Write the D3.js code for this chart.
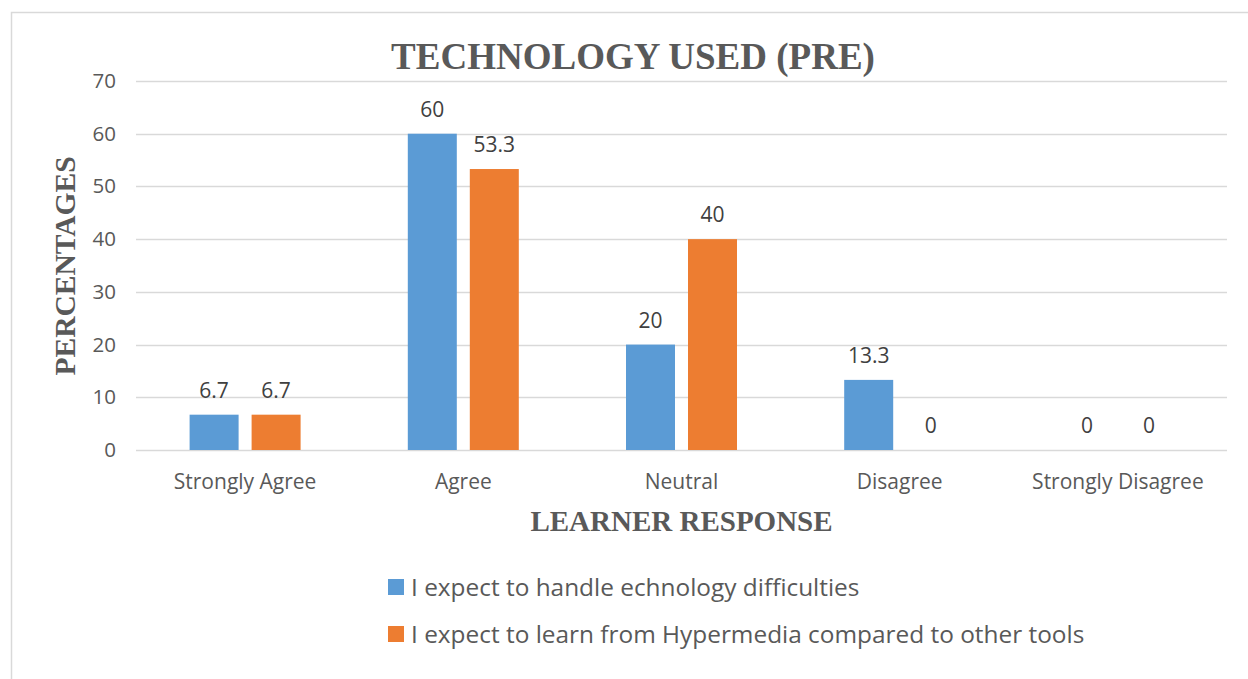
<!DOCTYPE html>
<html>
<head>
<meta charset="utf-8">
<script src="https://cdn.jsdelivr.net/npm/d3@7"></script>
<style>
  body { margin: 0; background: #fff; }
  svg { display: block; }
</style>
</head>
<body>
<div class="chart-container"></div>
<script>
// chart values
var categories = ["Strongly Agree", "Agree", "Neutral", "Disagree", "Strongly Disagree"];
var seriesNames = [
    "I expect to handle echnology difficulties",
    "I expect to learn from Hypermedia compared to other tools"
];
var handleValues = [6.7, 60, 20, 13.3, 0];
var learnValues = [6.7, 53.3, 40, 0, 0];
var yTicks = [0, 10, 20, 30, 40, 50, 60, 70];
var seriesColors = ["#5b9bd5", "#ed7d31"];

var chart = {
    width: 1248,
    height: 679,
    margin: { top: 81, right: 21, bottom: 229, left: 136 },
    svg: null,
};

(function () {
    var W = chart.width, H = chart.height, m = chart.margin;
    var innerW = W - m.left - m.right;
    var innerH = H - m.top - m.bottom;
    var textFont = "'Open Sans', 'Noto Sans', sans-serif";
    var titleFont = "'Liberation Serif', 'Times New Roman', serif";
    var grey = "#595959";

    chart.svg = d3.select(".chart-container").append("svg")
        .attr("width", W)
        .attr("height", H);

    // outer frame (right and bottom edges fall outside the picture)
    chart.svg.append("rect")
        .attr("x", 11.5).attr("y", 12.5)
        .attr("width", W + 20).attr("height", H + 20)
        .attr("fill", "none")
        .attr("stroke", "#d9d9d9")
        .attr("stroke-width", 1.5);

    var g = chart.svg.append("g")
        .attr("transform", "translate(" + m.left + "," + m.top + ")");

    var x0 = d3.scaleBand()
        .domain(categories)
        .range([0, innerW])
        .paddingInner(0)
        .paddingOuter(0);

    // each group is two bars of 49px with a 13px gap
    var groupW = 111;
    var x1 = d3.scaleBand()
        .domain([0, 1])
        .range([(x0.bandwidth() - groupW) / 2, (x0.bandwidth() + groupW) / 2])
        .paddingInner(13 / 62);

    var y = d3.scaleLinear()
        .domain([0, 70])
        .range([innerH, 0]);

    // gridlines
    g.append("g")
        .selectAll("line")
        .data(yTicks)
        .enter().append("line")
        .attr("x1", 0).attr("x2", innerW)
        .attr("y1", function (d) { return Math.round(y(d)) + 0.5; })
        .attr("y2", function (d) { return Math.round(y(d)) + 0.5; })
        .attr("stroke", "#d9d9d9")
        .attr("stroke-width", 1.5);

    // y axis labels
    var yAxis = d3.axisLeft(y).tickValues(yTicks).tickSize(0).tickPadding(20);
    var yg = g.append("g").call(yAxis);
    yg.select(".domain").remove();
    yg.selectAll("text")
        .attr("fill", grey)
        .style("font-family", textFont)
        .style("font-size", "20.5px");

    // x axis labels
    var xAxis = d3.axisBottom(x0).tickSize(0).tickPadding(24);
    var xg = g.append("g")
        .attr("transform", "translate(0," + innerH + ")")
        .call(xAxis);
    xg.select(".domain").remove();
    xg.selectAll("text")
        .attr("fill", grey)
        .style("font-family", textFont)
        .style("font-size", "21px");

    var rows = categories.map(function (c, i) {
        return { cat: c, values: [handleValues[i], learnValues[i]] };
    });

    var groups = g.append("g")
        .selectAll("g")
        .data(rows)
        .enter().append("g")
        .attr("transform", function (d) { return "translate(" + x0(d.cat) + ",0)"; });

    var cells = groups.selectAll("g")
        .data(function (d) { return d.values.map(function (v, k) { return { k: k, v: v }; }); })
        .enter().append("g");

    cells.append("rect")
        .attr("x", function (d) { return x1(d.k); })
        .attr("width", x1.bandwidth())
        .attr("y", function (d) { return y(d.v); })
        .attr("height", function (d) { return y(0) - y(d.v); })
        .attr("fill", function (d) { return seriesColors[d.k]; });

    cells.append("text")
        .attr("x", function (d) { return x1(d.k) + x1.bandwidth() / 2; })
        .attr("y", function (d) { return y(d.v) - 17; })
        .attr("text-anchor", "middle")
        .attr("fill", "#404040")
        .style("font-family", textFont)
        .style("font-size", "21px")
        .text(function (d) { return d.v; });

    // title
    chart.svg.append("text")
        .attr("x", 633).attr("y", 69)
        .attr("text-anchor", "middle")
        .attr("fill", grey)
        .style("font-family", titleFont)
        .style("font-weight", "bold")
        .style("font-size", "37px")
        .text("TECHNOLOGY USED (PRE)");

    // axis titles
    chart.svg.append("text")
        .attr("transform", "translate(75,266) rotate(-90)")
        .attr("text-anchor", "middle")
        .attr("fill", grey)
        .style("font-family", titleFont)
        .style("font-weight", "bold")
        .style("font-size", "29.5px")
        .text("PERCENTAGES");

    chart.svg.append("text")
        .attr("x", m.left + innerW / 2).attr("y", 531)
        .attr("text-anchor", "middle")
        .attr("fill", grey)
        .style("font-family", titleFont)
        .style("font-weight", "bold")
        .style("font-size", "29px")
        .text("LEARNER RESPONSE");

    // legend
    var legend = chart.svg.append("g")
        .attr("transform", "translate(388,579)");
    var item = legend.selectAll("g")
        .data(seriesNames)
        .enter().append("g")
        .attr("transform", function (d, i) { return "translate(0," + (i * 47) + ")"; });
    item.append("rect")
        .attr("width", 16).attr("height", 16)
        .attr("fill", function (d, i) { return seriesColors[i]; });
    item.append("text")
        .attr("x", 23).attr("y", 17)
        .attr("fill", grey)
        .style("font-family", textFont)
        .style("font-size", "24.4px")
        .text(function (d) { return d; });
})();
</script>
</body>
</html>
